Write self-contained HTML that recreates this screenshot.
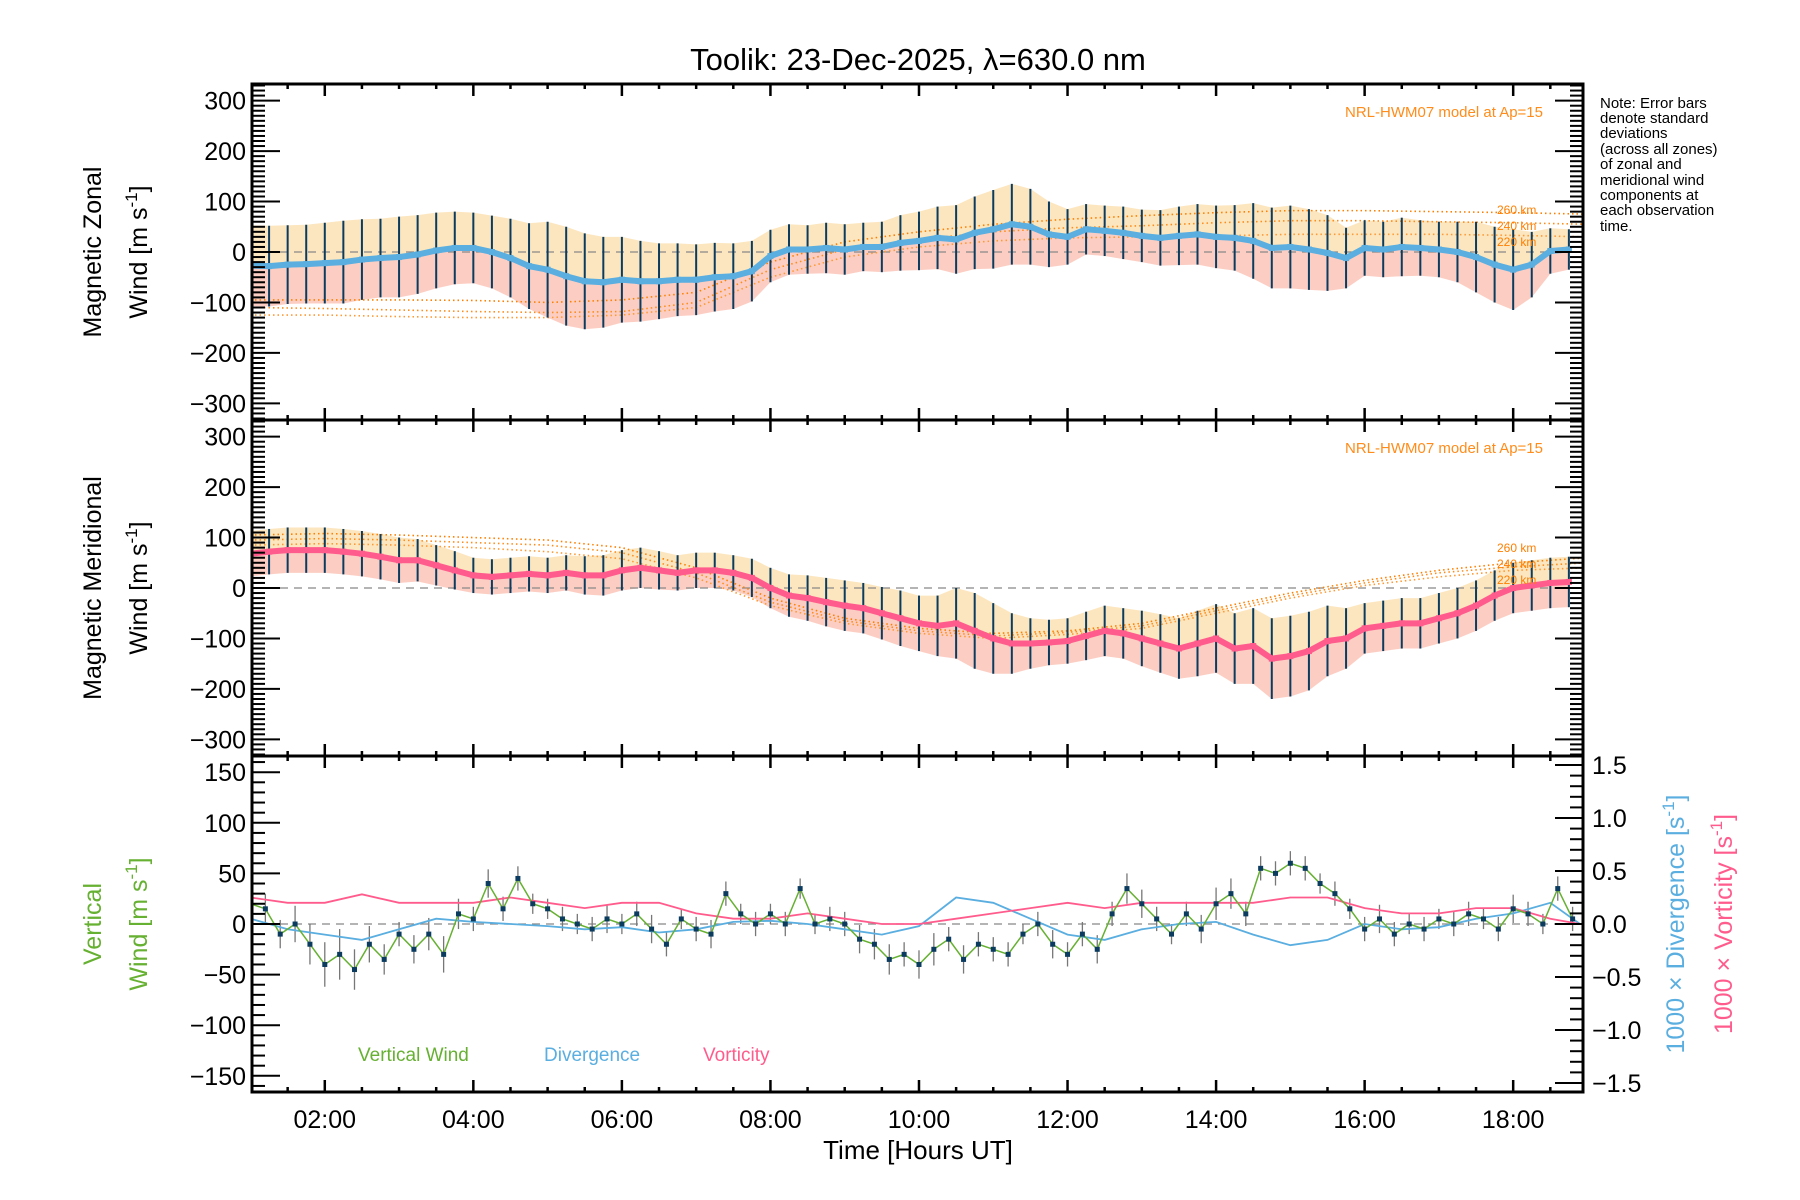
<!DOCTYPE html>
<html><head><meta charset="utf-8"><style>
html,body{margin:0;padding:0;background:#fff;}
svg{display:block;font-family:"Liberation Sans","DejaVu Sans",sans-serif;}
</style></head><body>
<svg id="chart" width="1800" height="1200" viewBox="0 0 1800 1200" xmlns="http://www.w3.org/2000/svg">
<text x="918" y="70" font-size="31" text-anchor="middle">Toolik: 23-Dec-2025, λ=630.0 nm</text>
<g font-size="15" fill="#000">
<text x="1600" y="108">Note: Error bars</text>
<text x="1600" y="123">denote standard</text>
<text x="1600" y="138">deviations</text>
<text x="1600" y="154">(across all zones)</text>
<text x="1600" y="169">of zonal and</text>
<text x="1600" y="185">meridional wind</text>
<text x="1600" y="200">components at</text>
<text x="1600" y="215">each observation</text>
<text x="1600" y="231">time.</text>
</g>
<g id="layer"></g>
</svg>
<script>
// ---- data ----
const zonalMean = [-27,-28,-25,-24,-22,-20,-15,-12,
 -10,-5,3,8,8,0,-12,-28,
 -35,-48,-58,-60,-55,-58,-58,-55,
 -55,-50,-48,-38,-8,5,5,8,
 5,10,10,18,22,28,25,38,
 45,55,50,35,30,45,42,38,
 32,28,32,35,30,28,22,8,
 10,5,-2,-12,8,5,10,8,
 5,0,-10,-25,-35,-25,2,5];
const zonalErr = [80,80,78,78,80,82,80,78,
 80,78,75,72,70,72,78,85,
 95,98,95,90,85,80,75,72,
 70,68,65,60,52,50,48,50,
 50,48,50,55,58,62,68,72,
 78,80,75,65,55,50,50,52,
 52,55,58,60,62,65,75,80,
 82,80,75,60,55,55,58,55,
 55,60,70,75,80,65,45,40];
const meridMean = [68,72,75,75,75,72,68,62,
 55,55,45,35,25,22,25,28,
 25,30,25,25,35,40,35,30,
 35,35,30,20,0,-15,-20,-28,
 -35,-40,-50,-60,-70,-75,-70,-85,
 -100,-110,-110,-108,-105,-95,-85,-90,
 -100,-110,-120,-110,-100,-120,-115,-140,
 -135,-125,-105,-100,-80,-75,-70,-70,
 -60,-50,-35,-15,0,5,10,12];
const meridErr = [45,45,45,45,45,45,45,45,
 45,42,40,38,35,35,35,35,
 35,35,38,40,40,40,38,35,
 35,35,35,38,40,42,45,48,
 50,50,52,55,55,60,70,75,
 70,60,50,45,45,48,50,50,
 55,58,60,65,68,70,75,80,
 80,78,70,60,50,50,50,50,
 50,50,50,50,50,50,50,50];
const windStart = 1.0, windStep = 0.25;

const vertWind = [20,15,-10,0,-20,-40,-30,-45,-20,-35,
 -10,-25,-10,-30,10,5,40,15,45,20,
 15,5,0,-5,5,0,10,-5,-20,5,
 -5,-10,30,10,0,10,0,35,0,5,
 0,-15,-20,-35,-30,-40,-25,-15,-35,-20,
 -25,-30,-10,0,-20,-30,-10,-25,10,35,
 20,5,-10,10,-5,20,30,10,55,50,
 60,55,40,30,15,-5,5,-10,0,-5,
 5,0,10,5,-5,15,10,0,35,5];
const vertErr = [12,15,14,18,20,22,25,20,18,15,
 12,14,16,18,15,12,14,12,12,10,
 10,12,10,12,14,10,12,14,12,10,
 12,14,12,10,12,10,12,10,10,12,
 12,14,15,15,12,14,16,12,14,12,
 12,12,10,12,14,12,12,14,12,15,
 14,12,10,12,14,16,15,12,12,12,
 12,12,10,12,10,12,14,12,10,12,
 10,12,12,10,12,14,12,10,12,12];
const vertStart = 1.0, vertStep = 0.2;

const ddTimes = [1.0,1.5,2.0,2.5,3.0,3.5,4.0,4.5,5.0,5.5,6.0,6.5,7.0,7.5,8.0,8.5,9.0,9.5,10.0,10.5,11.0,11.5,12.0,12.5,13.0,13.5,14.0,14.5,15.0,15.5,16.0,16.5,17.0,17.5,18.0,18.5,18.9];
const divergence = [0.05,-0.05,-0.1,-0.15,-0.05,0.05,0.02,0.0,-0.02,-0.05,-0.03,-0.08,-0.05,0.02,0.03,0.0,-0.05,-0.1,-0.02,0.25,0.2,0.05,-0.1,-0.15,-0.05,0.0,0.02,-0.1,-0.2,-0.15,0.0,-0.05,-0.03,0.05,0.1,0.2,0.0];
const vorticity = [0.25,0.2,0.2,0.28,0.2,0.2,0.2,0.25,0.2,0.15,0.2,0.2,0.1,0.05,0.05,0.1,0.05,0.0,0.0,0.05,0.1,0.15,0.2,0.15,0.2,0.2,0.2,0.2,0.25,0.25,0.15,0.1,0.1,0.15,0.15,0.05,0.0];

const hwmTimes = [1,2,3,4,5,6,7,8,9,10,11,12,13,14,15,16,17,18,19];
const hwmZonal260 = [-95,-95,-95,-96,-100,-95,-80,-20,20,40,55,65,72,78,82,82,80,78,75];
const hwmZonal240 = [-110,-112,-115,-118,-120,-118,-100,-35,5,25,40,48,52,58,62,62,60,58,55];
const hwmZonal220 = [-125,-125,-128,-130,-130,-125,-110,-50,-10,10,22,28,30,32,35,35,35,33,30];
const hwmMerid260 = [105,108,105,100,95,80,40,-20,-60,-80,-90,-85,-70,-40,-10,15,35,50,60];
const hwmMerid240 = [95,98,95,90,85,70,30,-28,-65,-85,-95,-88,-75,-45,-15,10,30,42,50];
const hwmMerid220 = [85,88,85,80,72,58,20,-35,-70,-90,-100,-92,-80,-50,-20,5,22,35,40];

const xTickLabels = ['02:00','04:00','06:00','08:00','10:00','12:00','14:00','16:00','18:00'];
const xTickHours = [2,4,6,8,10,12,14,16,18];
const windTicks = [300,200,100,0,-100,-200,-300];
const vertTicks = [150,100,50,0,-50,-100,-150];
const rightTicks = [1.5,1.0,0.5,0.0,-0.5,-1.0,-1.5];

// ---- geometry ----
const L=252, R=1583, T0=1.02, T1=18.94;
const tops=[84,420,756], H=336;
const NS='http://www.w3.org/2000/svg';
const layer=document.getElementById('layer');
function x(t){return L+(t-T0)/(T1-T0)*(R-L);}
function yW(p,v){return tops[p]+H/2 - v*(H/2)/333;}
function yV(v){return tops[2]+H/2 - v*(H/2)/166;}
function yR(v){return tops[2]+H/2 - v*(H/2)/1.585;}
function el(tag,attrs,parent){const e=document.createElementNS(NS,tag);for(const k in attrs)e.setAttribute(k,attrs[k]);(parent||layer).appendChild(e);return e;}
function txt(s,attrs,parent){const e=el('text',attrs,parent);e.textContent=s;return e;}

// clip
const defs=el('defs',{});
for(let p=0;p<3;p++){const c=el('clipPath',{id:'clip'+p},defs);el('rect',{x:L,y:tops[p],width:R-L,height:H},c);}

function windPanel(p,mean,err,lineCol,name,hwm){
  const g=el('g',{'clip-path':'url(#clip'+p+')'});
  
  
  const n=mean.length;
  let up='',mid='',lo='';
  const ts=mean.map((_,i)=>windStart+i*windStep);
  for(let i=0;i<n;i++){up+=x(ts[i])+','+yW(p,mean[i]+err[i])+' ';}
  let midBack='';for(let i=n-1;i>=0;i--){midBack+=x(ts[i])+','+yW(p,mean[i])+' ';}
  for(let i=n-1;i>=0;i--){lo+=x(ts[i])+','+yW(p,mean[i]-err[i])+' ';}
  let midFwd='';for(let i=0;i<n;i++){midFwd+=x(ts[i])+','+yW(p,mean[i])+' ';}
  const b1=el('polygon',{points:up+midBack,fill:'#fbe2b4','fill-opacity':'0.85'},g);
  
  
  const b2=el('polygon',{points:midFwd+lo,fill:'#fbc6b8','fill-opacity':'0.85'},g);
  
  
  // zero line
  const z=el('line',{x1:L,x2:R,y1:yW(p,0),y2:yW(p,0),stroke:'#888','stroke-dasharray':'8,6','stroke-width':1.2},g);
  
  
  // hwm
  const hc=['#ff7f00','#ff8c1a','#ff9933'];
  hwm.forEach((arr,k)=>{
    const pl=el('polyline',{points:arr.map((v,i)=>x(hwmTimes[i])+','+yW(p,v)).join(' '),fill:'none',stroke:hc[k],'stroke-width':1.6,'stroke-dasharray':'1.5,3'},g);
    
    
  });
  // error bars
  for(let i=0;i<n;i++){
    const b=el('line',{x1:x(ts[i]),x2:x(ts[i]),y1:yW(p,mean[i]+err[i]),y2:yW(p,mean[i]-err[i]),stroke:'#0b3b5e','stroke-width':2},g);
    
    
  }
  const ln=el('polyline',{points:midFwd,fill:'none',stroke:lineCol,'stroke-width':6,'stroke-linejoin':'round'},g);
  
  
  for(let i=0;i<n;i++){
    const d=el('rect',{x:x(ts[i])-3,y:yW(p,mean[i])-3,width:6,height:6,fill:lineCol},g);
    
    
  }
}
windPanel(0,zonalMean,zonalErr,'#5aaee0','zonal',[hwmZonal260,hwmZonal240,hwmZonal220]);
windPanel(1,meridMean,meridErr,'#ff5c8d','meridional',[hwmMerid260,hwmMerid240,hwmMerid220]);

// vertical panel
{
  const g=el('g',{'clip-path':'url(#clip2)'});
  
  
  const z=el('line',{x1:L,x2:R,y1:yV(0),y2:yV(0),stroke:'#888','stroke-dasharray':'8,6','stroke-width':1.2},g);
  
  
  const vt=vertWind.map((_,i)=>vertStart+i*vertStep);
  for(let i=0;i<vertWind.length;i++){
    const b=el('line',{x1:x(vt[i]),x2:x(vt[i]),y1:yV(vertWind[i]+vertErr[i]),y2:yV(vertWind[i]-vertErr[i]),stroke:'#777','stroke-width':1.3},g);
    
    
  }
  const dv=el('polyline',{points:divergence.map((v,i)=>x(ddTimes[i])+','+yR(v)).join(' '),fill:'none',stroke:'#5aaee0','stroke-width':1.8},g);
  
  
  const vo=el('polyline',{points:vorticity.map((v,i)=>x(ddTimes[i])+','+yR(v)).join(' '),fill:'none',stroke:'#ff5c8d','stroke-width':1.8},g);
  
  
  const vl=el('polyline',{points:vertWind.map((v,i)=>x(vt[i])+','+yV(v)).join(' '),fill:'none',stroke:'#66b032','stroke-width':1.5},g);
  
  
  for(let i=0;i<vertWind.length;i++){
    const d=el('rect',{x:x(vt[i])-2.5,y:yV(vertWind[i])-2.5,width:5,height:5,fill:'#0b3b5e'},g);
    
    
  }
}

// axes frames & ticks
for(let p=0;p<3;p++){
  const fr=el('rect',{x:L,y:tops[p],width:R-L,height:H,fill:'none',stroke:'#000','stroke-width':3});
  
  
  // x ticks
  for(let t=1.5;t<T1;t+=0.5){
    const major=(t%2===0), len=major?12:5;
    el('line',{x1:x(t),x2:x(t),y1:tops[p],y2:tops[p]+len,stroke:'#000','stroke-width':2.5});
    el('line',{x1:x(t),x2:x(t),y1:tops[p]+H,y2:tops[p]+H-len,stroke:'#000','stroke-width':2.5});
  }
}
for(let p=0;p<2;p++){
  for(let v=-330;v<=330;v+=10){
    const major=(v%100===0), len=major?28:13;
    el('line',{x1:L,x2:L+len,y1:yW(p,v),y2:yW(p,v),stroke:'#000','stroke-width':2});
    el('line',{x1:R,x2:R-len,y1:yW(p,v),y2:yW(p,v),stroke:'#000','stroke-width':2});
  }
  windTicks.forEach(v=>{
    const t=txt(String(v).replace('-','−'),{x:246,y:yW(p,v)+9,'font-size':25,'text-anchor':'end'});
    
    
  });
}
for(let v=-160;v<=160;v+=10){
  const len=(v%50===0)?28:13;
  el('line',{x1:L,x2:L+len,y1:yV(v),y2:yV(v),stroke:'#000','stroke-width':2});
}
vertTicks.forEach(v=>{
  const t=txt(String(v).replace('-','−'),{x:246,y:yV(v)+9,'font-size':25,'text-anchor':'end'});
  
  
});
for(let k=-15;k<=15;k++){
  const v=k/10, len=(k%5===0)?28:13;
  el('line',{x1:R,x2:R-len,y1:yR(v),y2:yR(v),stroke:'#000','stroke-width':2});
}
rightTicks.forEach(v=>{
  const t=txt(v.toFixed(1).replace('-','−'),{x:1592,y:yR(v)+9,'font-size':25,'text-anchor':'start'});
  
  
});
xTickLabels.forEach((s,i)=>{
  const t=txt(s,{x:x(xTickHours[i]),y:1128,'font-size':25,'text-anchor':'middle'});
  
  
});
</script>
<g></g>
<svg width="0" height="0"></svg>
<script>
// static labels
const S=document.getElementById('chart');
S.insertAdjacentHTML('beforeend',`
<text x="918" y="1159" font-size="26" text-anchor="middle">Time [Hours UT]</text>
<text font-size="25" text-anchor="middle" transform="translate(101,252) rotate(-90)">Magnetic Zonal</text>
<text font-size="25" text-anchor="middle" transform="translate(147,252) rotate(-90)">Wind [m s<tspan dy="-10" font-size="17">-1</tspan><tspan dy="10">]</tspan></text>
<text font-size="25" text-anchor="middle" transform="translate(101,588) rotate(-90)">Magnetic Meridional</text>
<text font-size="25" text-anchor="middle" transform="translate(147,588) rotate(-90)">Wind [m s<tspan dy="-10" font-size="17">-1</tspan><tspan dy="10">]</tspan></text>
<text font-size="25" fill="#66b032" text-anchor="middle" transform="translate(101,924) rotate(-90)">Vertical</text>
<text font-size="25" fill="#66b032" text-anchor="middle" transform="translate(147,924) rotate(-90)">Wind [m s<tspan dy="-10" font-size="17">-1</tspan><tspan dy="10">]</tspan></text>
<text font-size="25" fill="#5aaee0" text-anchor="middle" transform="translate(1684,924) rotate(-90)">1000 × Divergence [s<tspan dy="-10" font-size="17">-1</tspan><tspan dy="10">]</tspan></text>
<text font-size="25" fill="#ff5c8d" text-anchor="middle" transform="translate(1732,924) rotate(-90)">1000 × Vorticity [s<tspan dy="-10" font-size="17">-1</tspan><tspan dy="10">]</tspan></text>
<text x="1543" y="117" font-size="15" fill="#ff8c1a" text-anchor="end">NRL-HWM07 model at Ap=15</text>
<text x="1543" y="453" font-size="15" fill="#ff8c1a" text-anchor="end">NRL-HWM07 model at Ap=15</text>
<g font-size="12" fill="#ff7f00"><text x="1497" y="214">260 km</text><text x="1497" y="230">240 km</text><text x="1497" y="246">220 km</text>
<text x="1497" y="552">260 km</text><text x="1497" y="568">240 km</text><text x="1497" y="584">220 km</text></g>
<text x="358" y="1061" font-size="19" fill="#66b032">Vertical Wind</text>
<text x="544" y="1061" font-size="19" fill="#5aaee0">Divergence</text>
<text x="703" y="1061" font-size="19" fill="#ff5c8d">Vorticity</text>
`);
</script>
</body></html>
